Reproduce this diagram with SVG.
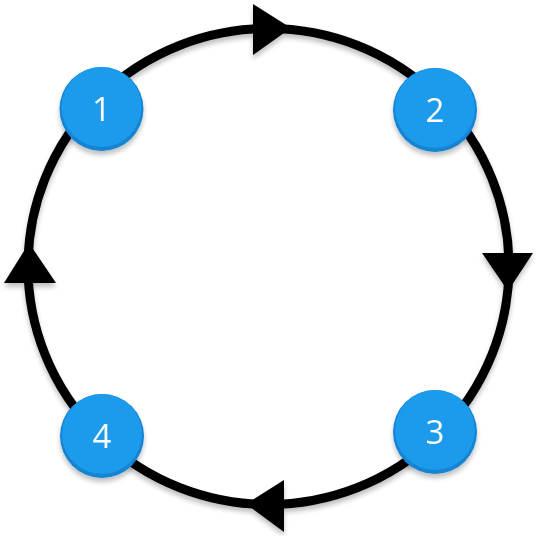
<svg xmlns="http://www.w3.org/2000/svg" width="538" height="536" viewBox="0 0 538 536">
<style>
.ring{fill:none;stroke:#000;stroke-width:9}
.head{fill:#000}
.node{fill:#1c9bec}
.rim{fill:#1384d2}
.lbl{font-family:"Open Sans","Liberation Sans",sans-serif;font-size:33px;fill:#fff;text-anchor:middle;dominant-baseline:central}
</style>
<defs>
<filter id="sh" x="-20%" y="-20%" width="140%" height="150%">
<feGaussianBlur in="SourceAlpha" stdDeviation="2.5"/>
<feOffset dy="4" result="b"/>
<feComponentTransfer><feFuncA type="linear" slope="0.25"/></feComponentTransfer>
<feMerge><feMergeNode/><feMergeNode in="SourceGraphic"/></feMerge>
</filter>
</defs>
<rect width="538" height="536" fill="#fff"/>
<g id="connectors" filter="url(#sh)">
<ellipse class="ring" cx="268.5" cy="266.5" rx="240.5" ry="238"/>
<polygon class="head" points="253,4 253,55 291,28"/>
<polygon class="head" points="482,253 533,253 508,291"/>
<polygon class="head" points="284,480 284,532 246,504"/>
<polygon class="head" points="4,283 56,283 29,243"/>
</g>
<g id="node1" filter="url(#sh)">
<circle class="rim" cx="101.5" cy="109" r="42"/>
<circle class="node" cx="101.5" cy="107" r="40"/>
<text class="lbl" x="101.5" y="108">1</text>
</g>
<g id="node2" filter="url(#sh)">
<circle class="rim" cx="435" cy="110" r="42"/>
<circle class="node" cx="435" cy="108" r="40"/>
<text class="lbl" x="435" y="109">2</text>
</g>
<g id="node3" filter="url(#sh)">
<circle class="rim" cx="435" cy="432" r="42"/>
<circle class="node" cx="435" cy="430" r="40"/>
<text class="lbl" x="435" y="431">3</text>
</g>
<g id="node4" filter="url(#sh)">
<circle class="rim" cx="102" cy="436" r="42"/>
<circle class="node" cx="102" cy="434" r="40"/>
<text class="lbl" x="102" y="435">4</text>
</g>
</svg>
